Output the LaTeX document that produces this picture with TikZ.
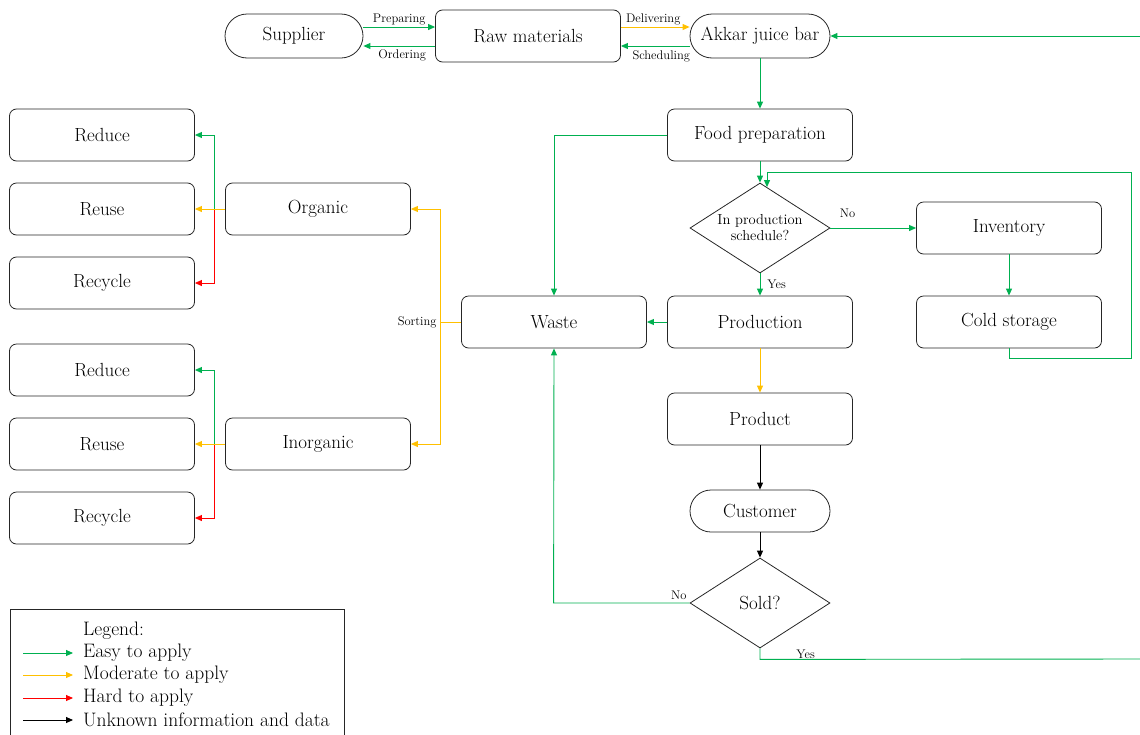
\documentclass[tikz,border=0pt]{standalone}
\usetikzlibrary{arrows.meta,shapes.geometric,calc}
\definecolor{cgreen}{HTML}{00B050}
\definecolor{cyellow}{HTML}{FFC000}
\definecolor{cred}{HTML}{FF0000}
\tikzset{
  box/.style={draw=black!85,line width=0.8pt,rounded corners=7pt,minimum width=185pt,minimum height=52pt,inner sep=0pt,font=\fontsize{19}{22}\selectfont},
  pill/.style={draw=black!85,line width=0.8pt,rounded corners=22pt,minimum width=138pt,minimum height=44pt,inner sep=0pt,font=\fontsize{19}{22}\selectfont},
  dec/.style={draw=black!85,line width=0.8pt,diamond,aspect=1.556,minimum width=140pt,minimum height=90pt,inner sep=0pt,align=center},
  arr/.style={line width=0.9pt,-{Triangle[length=7pt,width=6pt]}},
  ln/.style={line width=0.9pt},
  lab/.style={font=\fontsize{12.5}{14}\selectfont,inner sep=1pt},
  legtxt/.style={font=\fontsize{19.5}{22}\selectfont,anchor=west,inner sep=0pt},
}
\begin{document}
\begin{tikzpicture}[x=1pt,y=-1pt]
\useasboundingbox (0,0) rectangle (1140,734);
% top row
\node[pill] (sup) at (294,36) {Supplier};
\node[box,minimum height=52pt] (raw) at (528,36) {Raw materials};
\node[pill,minimum width=140pt] (akk) at (760,36) {Akkar juice bar};
\node[box] (food) at (760,135) {Food preparation};
\node[dec,font=\fontsize{14.5}{16}\selectfont] (d1) at (760,228) {In production\\schedule?};
\node[box] (inv) at (1009,228) {Inventory};
\node[box] (cold) at (1009,322) {Cold storage};
\node[box] (prod) at (760,322) {Production};
\node[box] (waste) at (554,322) {Waste};
\node[box] (pdt) at (760,419) {Product};
\node[pill,minimum width=140pt,minimum height=42pt,rounded corners=21pt] (cus) at (760,511) {Customer};
\node[dec,font=\fontsize{19}{22}\selectfont] (d2) at (760,603) {Sold?};
\node[box] (org) at (318,209) {Organic};
\node[box] (inorg) at (318,444) {Inorganic};
\node[box] (red1) at (102,135) {Reduce};
\node[box] (reu1) at (102,209) {Reuse};
\node[box] (rec1) at (102,283) {Recycle};
\node[box] (red2) at (102,370) {Reduce};
\node[box] (reu2) at (102,444) {Reuse};
\node[box] (rec2) at (102,518) {Recycle};

% edge coordinates
\coordinate (inR) at (1140,36);
\coordinate (outR) at (1140,659);

% top arrows
\draw[arr,cgreen] (sup.east|-0,27) -- node[lab,above,black]{Preparing} (raw.west|-0,27);
\draw[arr,cgreen] (raw.west|-0,46) -- node[lab,below,black,yshift=-2pt,xshift=3pt]{Ordering} (sup.east|-0,46);
\draw[arr,cyellow] (raw.east|-0,27) -- node[lab,above,black,xshift=-2pt]{Delivering} (akk.west|-0,27);
\draw[arr,cgreen] (akk.west|-0,46) -- node[lab,below,black,yshift=-3pt,xshift=6pt]{Scheduling} (raw.east|-0,46);
\draw[arr,cgreen] (inR) -- (akk.east);
\draw[arr,cgreen] (akk.south) -- (food.north);
\draw[arr,cgreen] (food.south) -- (d1.north);
\draw[arr,cgreen] (food.west) -| (waste.north);
\draw[arr,cgreen] (d1.east) -- node[lab,above,black,pos=0.2,yshift=9pt]{No} (inv.west);
\draw[arr,cgreen] (inv.south) -- (cold.north);
\draw[arr,cgreen] (cold.south) -- ++(0,10) -| (1131,172) -| ($(d1.north)+(7,4.5)$);
\draw[arr,cgreen] (d1.south) -- node[lab,right,black,pos=0.5,xshift=6pt]{Yes} (prod.north);
\draw[arr,cgreen] (prod.west) -- (waste.east);
\draw[arr,cyellow] (prod.south) -- (pdt.north);
\draw[arr,black] (pdt.south) -- (cus.north);
\draw[arr,black] (cus.south) -- (d2.north);
\draw[arr,cgreen] (d2.west) -- node[lab,above,black,pos=0.08,yshift=2pt]{No} ++(-136,0) -- (waste.south);
\draw[ln,cgreen] (d2.south) -- ++(0,11) -- node[lab,above,black,pos=0.12,yshift=-1pt]{Yes} (outR);

% sorting
\draw[ln,cyellow] (waste.west) -- node[lab,left,black,pos=1,xshift=-2pt]{Sorting} (440,322);
\draw[arr,cyellow] (440,322) |- (org.east);
\draw[arr,cyellow] (440,322) |- (inorg.east);

% organic
\draw[arr,cgreen] (org.west) -- ++(-11,0) |- (red1.east);
\draw[arr,cred] (org.west) -- ++(-11,0) |- (rec1.east);
\draw[arr,cyellow] (org.west) -- (reu1.east);
% inorganic
\draw[arr,cgreen] (inorg.west) -- ++(-11,0) |- (red2.east);
\draw[arr,cred] (inorg.west) -- ++(-11,0) |- (rec2.east);
\draw[arr,cyellow] (inorg.west) -- (reu2.east);

% legend
\draw[line width=0.8pt,black!85] (10,740) -- (10,609) -- (344,609) -- (344,740);
\node[legtxt] (lg0) at (83,631) {Legend:};
\node[legtxt] (lg1) at (83,653) {Easy to apply};
\node[legtxt] (lg2) at (83,675) {Moderate to apply};
\node[legtxt] (lg3) at (83,698) {Hard to apply};
\node[legtxt] (lg4) at (83,720) {Unknown information and data};
\draw[arr,cgreen] (23,653) -- (73,653);
\draw[arr,cyellow] (23,675) -- (73,675);
\draw[arr,cred] (23,698) -- (73,698);
\draw[arr,black] (23,720) -- (73,720);
\end{tikzpicture}
\end{document}
